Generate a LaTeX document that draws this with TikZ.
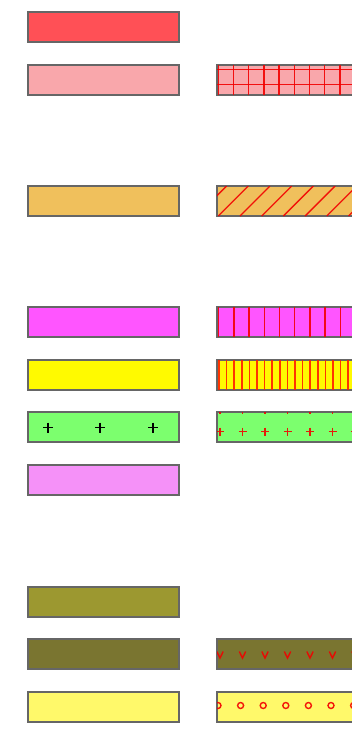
\documentclass[tikz,border=0pt]{standalone}
\begin{document}
\begin{tikzpicture}[x=1pt,y=-1pt,
  bar/.style={draw=black!60, line width=1.1pt, minimum width=151pt, minimum height=30pt, inner sep=0pt, outer sep=0pt, anchor=north west},
  pat/.style={red!95!black, line width=1.5pt, opacity=0.9}]
\useasboundingbox (0,0) rectangle (352,731);
\definecolor{c1}{RGB}{255,80,86}
\definecolor{c2}{RGB}{249,167,171}
\definecolor{c3}{RGB}{240,192,92}
\definecolor{c4}{RGB}{255,85,255}
\definecolor{c5}{RGB}{255,250,0}
\definecolor{c6}{RGB}{124,255,110}
\definecolor{c7}{RGB}{245,145,248}
\definecolor{c8}{RGB}{156,152,48}
\definecolor{c9}{RGB}{122,117,48}
\definecolor{c10}{RGB}{255,249,106}
\clip (0,0) rectangle (352,731);
% left column
\node[bar, fill=c1] (l1) at (28,12) {};
\node[bar, fill=c2] (l2) at (28,65) {};
\node[bar, fill=c3] (l3) at (28,186) {};
\node[bar, fill=c4] (l4) at (28,307) {};
\node[bar, fill=c5] (l5) at (28,360) {};
\node[bar, fill=c6] (l6) at (28,412) {};
\node[bar, fill=c7] (l7) at (28,465) {};
\node[bar, fill=c8] (l8) at (28,587) {};
\node[bar, fill=c9] (l9) at (28,639) {};
\node[bar, fill=c10] (l10) at (28,692) {};
\foreach \x in {48,100,153} \draw[black, line width=1.2pt] (\x-5,427.5) -- (\x+5,427.5) (\x,422.5) -- (\x,432.5);
% right column
\node[bar, fill=c2] (r2) at (217,65) {};
\node[bar, fill=c3] (r3) at (217,186) {};
\node[bar, fill=c4] (r4) at (217,307) {};
\node[bar, fill=c5] (r5) at (217,360) {};
\node[bar, fill=c6] (r6) at (217,412) {};
\node[bar, fill=c9] (r9) at (217,639) {};
\node[bar, fill=c10] (r10) at (217,692) {};
% grid
\begin{scope}
\clip (r2.north west) rectangle (r2.south east);
\foreach \i in {0,...,10} \draw[pat] (218.3+15.2*\i,65) -- (218.3+15.2*\i,95);
\draw[pat] (217,69.3) -- (368,69.3) (217,84.3) -- (368,84.3);
\end{scope}
% diagonals
\begin{scope}
\clip (r3.north west) rectangle (r3.south east);
\foreach \i in {-2,...,8} \draw[pat, line width=1.3pt] (218.3+21.7*\i,216) -- (248.3+21.7*\i,186);
\end{scope}
% vertical sparse
\begin{scope}
\clip (r4.north west) rectangle (r4.south east);
\foreach \i in {0,...,10} \draw[pat] (218.7+15.2*\i,307) -- (218.7+15.2*\i,337);
\end{scope}
% vertical dense
\begin{scope}
\clip (r5.north west) rectangle (r5.south east);
\foreach \i in {0,...,20} \draw[pat, red!75!orange, line width=1.7pt] (219+7.6*\i,360) -- (219+7.6*\i,390);
\end{scope}
% plus
\begin{scope}
\clip (r6.north west) rectangle (r6.south east);
\foreach \i in {0,...,6} {
  \draw[pat, line width=1.3pt] (220+22.5*\i-4,431.7) -- (220+22.5*\i+4,431.7) (220+22.5*\i,427.7) -- (220+22.5*\i,435.7);
  \draw[pat, line width=1.3pt] (220+22.5*\i,405.5) -- (220+22.5*\i,413.5);
}
\end{scope}
% v markers
\begin{scope}
\clip (r9.north west) rectangle (r9.south east);
\foreach \i in {0,...,6} \draw[pat, line width=1.4pt] (220+22.5*\i-3.2,651.5) -- (220+22.5*\i,658) -- (220+22.5*\i+3.2,651.5);
\end{scope}
% circles
\begin{scope}
\clip (r10.north west) rectangle (r10.south east);
\foreach \i in {0,...,6} \draw[pat, line width=1.4pt] (218+22.6*\i,705.5) circle (3);
\end{scope}
\end{tikzpicture}
\end{document}
